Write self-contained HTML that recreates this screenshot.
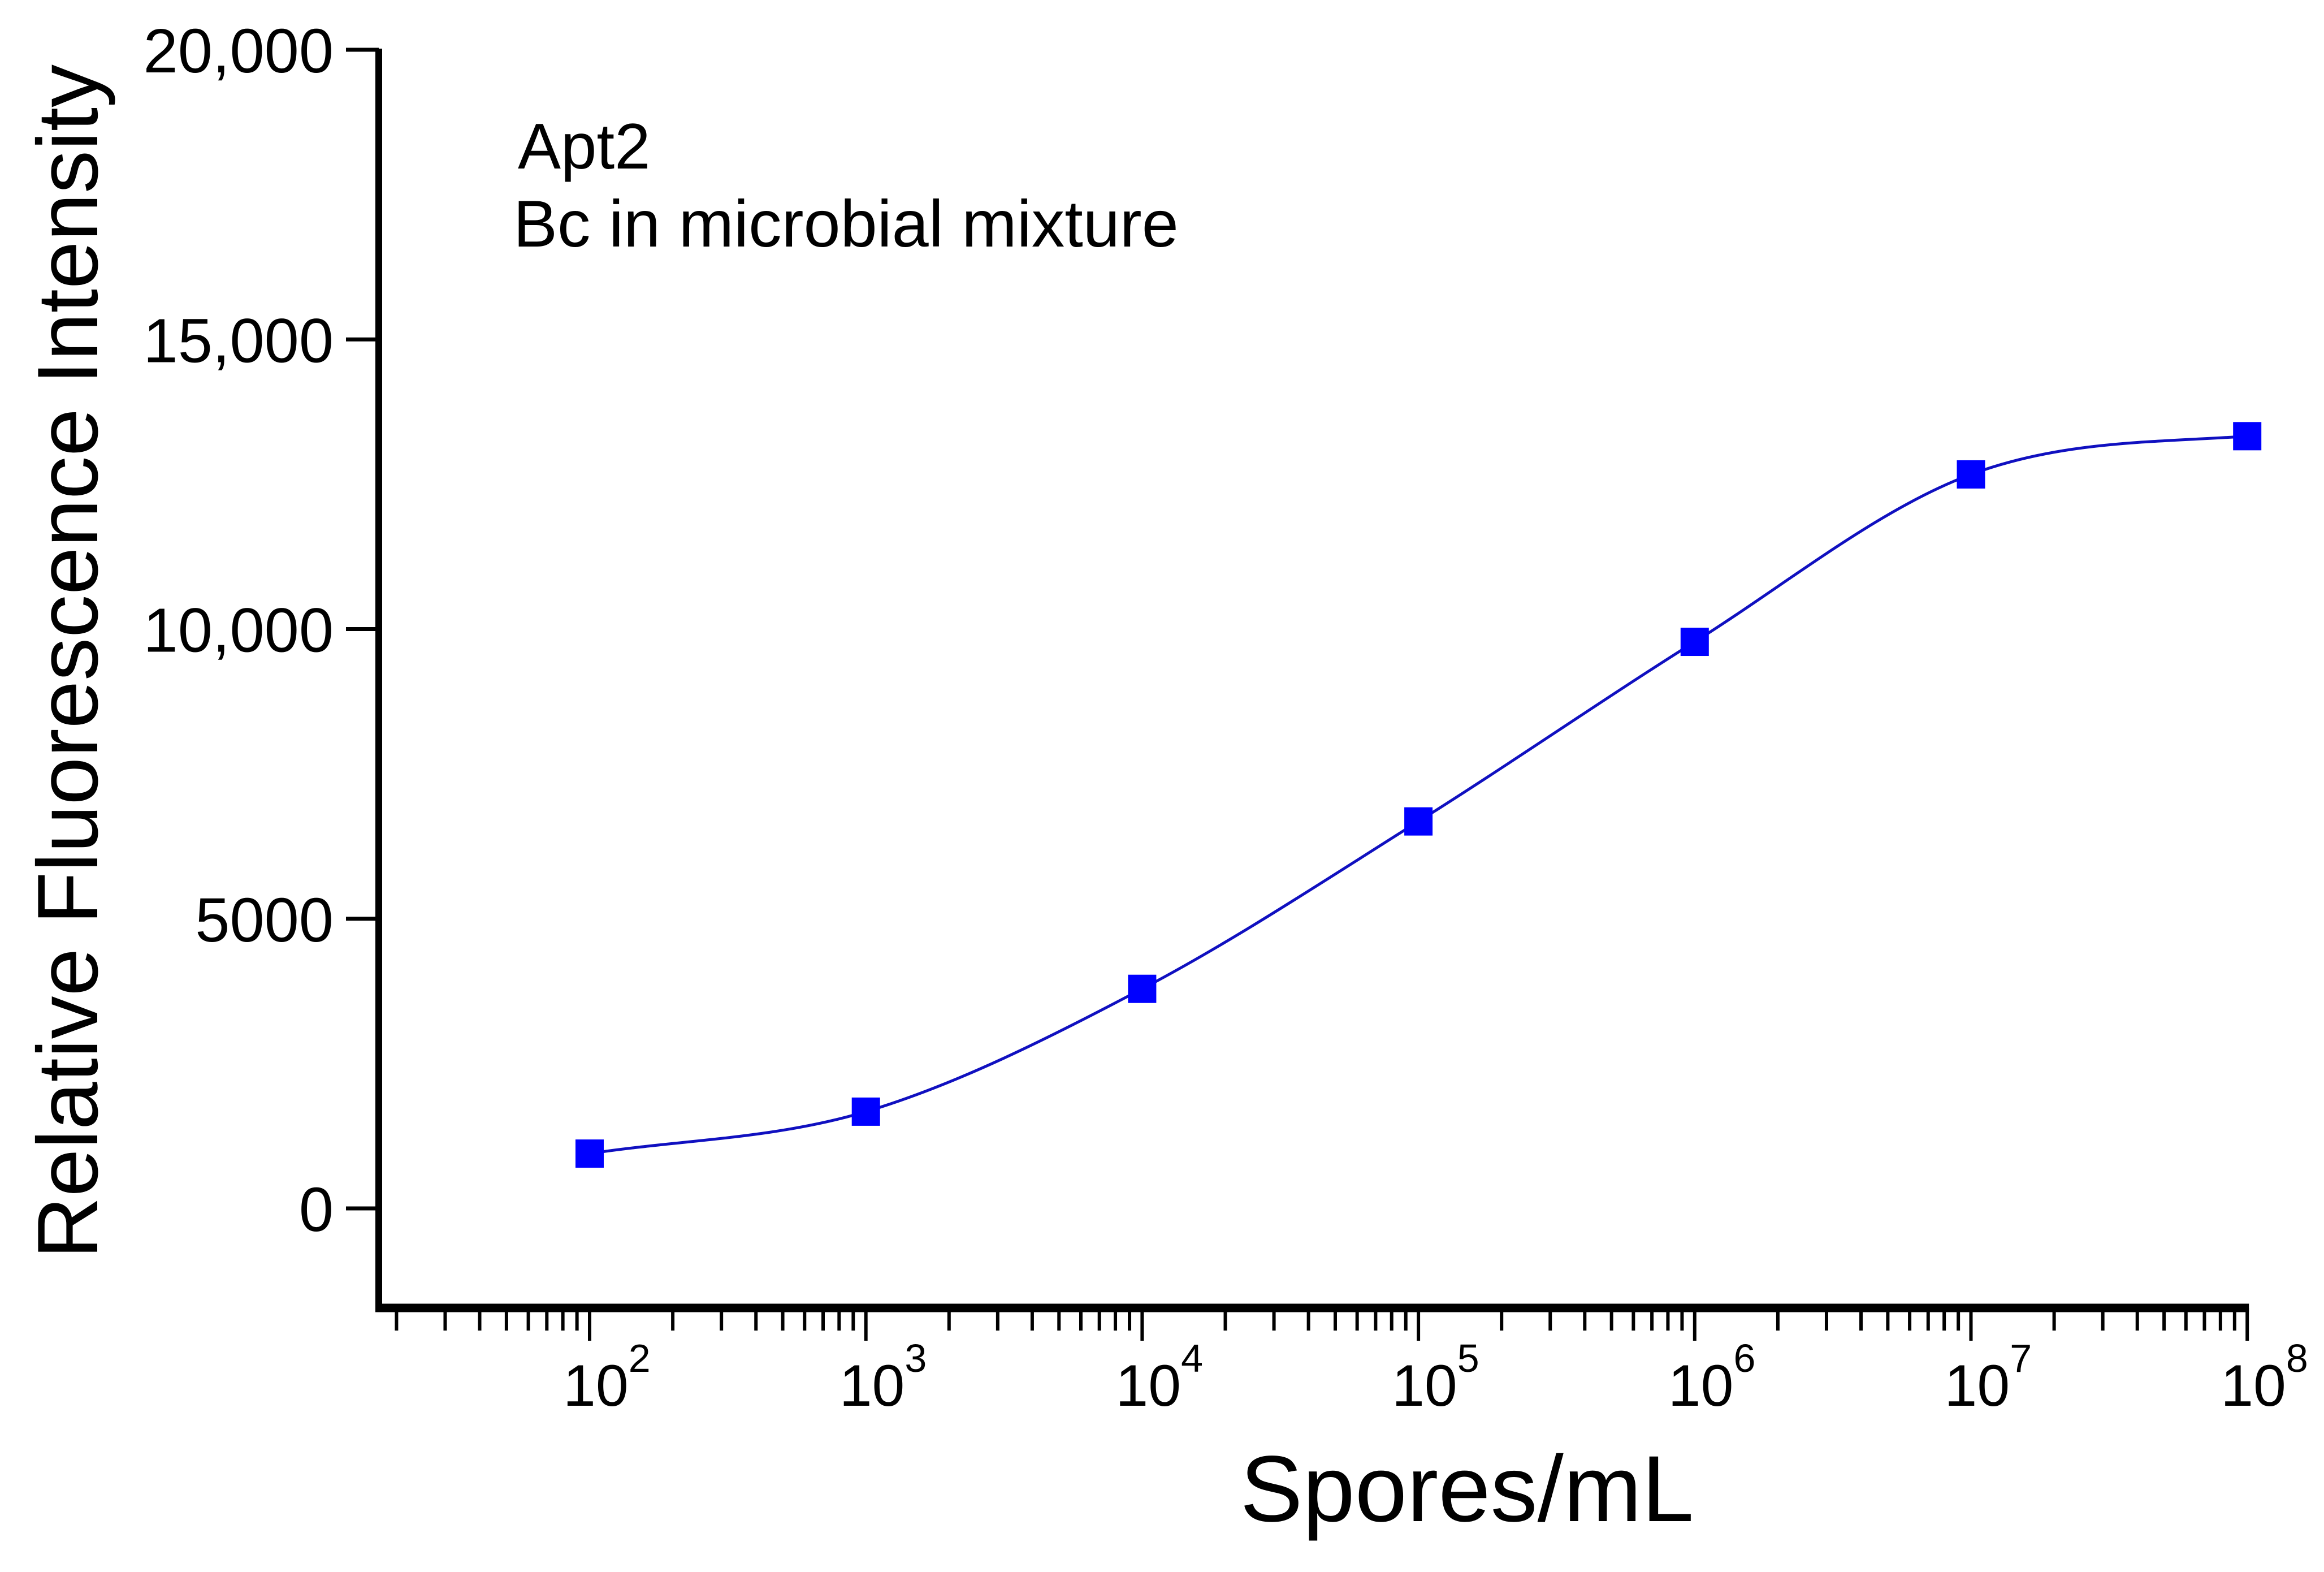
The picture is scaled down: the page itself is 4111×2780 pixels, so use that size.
<!DOCTYPE html>
<html><head><meta charset="utf-8">
<style>
html,body{margin:0;padding:0;background:#fff;}
svg{display:block;font-family:"Liberation Sans",Arial,sans-serif;}
</style></head>
<body>
<svg id="chart" width="4111" height="2780" viewBox="0 0 4111 2780" xmlns="http://www.w3.org/2000/svg">
  <rect width="4111" height="2780" fill="#fff"/>
  <g id="axes"></g>
  <g id="series"></g>
  <text x="916" y="298" font-size="114" fill="#000">Apt2</text>
  <text x="908" y="436" font-size="117" fill="#000">Bc in microbial mixture</text>
  <text x="0" y="0" font-size="152" fill="#000" text-anchor="middle" transform="translate(172,1170) rotate(-90)">Relative Fluorescence Intensity</text>
  <text x="2595" y="2690" font-size="166" fill="#000" text-anchor="middle">Spores/mL</text>
</svg>
<script>
const xExponents = [2, 3, 4, 5, 6, 7, 8];
const yValues = [946, 1670, 3790, 6680, 9780, 12670, 13330];
const yTicks = [0, 5000, 10000, 15000, 20000];
const yTickLabels = ["0", "5000", "10,000", "15,000", "20,000"];
const xTickExponents = [2, 3, 4, 5, 6, 7, 8];

const NS = "http://www.w3.org/2000/svg";
const X0 = 1043, DEC = 488.7;
function xScale(logv){ return X0 + (logv - 2) * DEC; }
function yScale(v){ return 2137 - v * (2049/20000); }
function mk(tag, attrs, parent){
  const e = document.createElementNS(NS, tag);
  for (const k in attrs) e.setAttribute(k, attrs[k]);
  parent.appendChild(e);
  return e;
}
const axes = document.getElementById('axes');
const series = document.getElementById('series');
const axisY = 2313, axisLeft = 670, axisRight = xScale(8);

let yl = mk('line', {x1:axisLeft, y1:86, x2:axisLeft, y2:axisY+5, stroke:'#000','stroke-width':12}, axes);


let xl = mk('line', {x1:axisLeft-6, y1:axisY, x2:axisRight+3, y2:axisY, stroke:'#000','stroke-width':15}, axes);



yTicks.forEach((v, i) => {
  const y = yScale(v);
  const t = mk('line', {x1:612, y1:y, x2:axisLeft, y2:y, stroke:'#000','stroke-width':7}, axes);
  
  
  const lb = mk('text', {x:590, y:y+40, 'font-size':110, 'text-anchor':'end', fill:'#000'}, axes);
  lb.textContent = yTickLabels[i];
  
  
});

for (let d = 1; d <= 7; d++) {
  for (let m = 2; m <= 9; m++) {
    const lv = d + Math.log10(m);
    const x = xScale(lv);
    const t = mk('line', {x1:x, y1:axisY, x2:x, y2:2353, stroke:'#000','stroke-width':6}, axes);
    
    
  }
}
xTickExponents.forEach(e => {
  const x = xScale(e);
  const t = mk('line', {x1:x, y1:axisY, x2:x, y2:2371, stroke:'#000','stroke-width':6}, axes);
  
  
  const lb = mk('text', {x:x-47, y:2486, 'font-size':104, fill:'#000'}, axes);
  
  
  const base = mk('tspan', {}, lb); base.textContent = '10';
  const sup = mk('tspan', {dy:-60, 'font-size':70}, lb); sup.textContent = String(e);
});

const px = xExponents.map(xScale), py = yValues.map(yScale);
const n = px.length;
const dx = [], sl = [];
for (let i = 0; i < n-1; i++){ dx.push(px[i+1]-px[i]); sl.push((py[i+1]-py[i])/dx[i]); }
const m = [sl[0]];
for (let i = 1; i < n-1; i++){ m.push(sl[i-1]*sl[i] <= 0 ? 0 : (sl[i-1]+sl[i])/2); }
m.push(sl[n-2]*0.5);
let d = `M${px[0]},${py[0]}`;
for (let i = 0; i < n-1; i++){
  const h = dx[i]/3;
  d += ` C${px[i]+h},${py[i]+m[i]*h} ${px[i+1]-h},${py[i+1]-m[i+1]*h} ${px[i+1]},${py[i+1]}`;
}
const curve = mk('path', {d:d, fill:'none', stroke:'#1010c0','stroke-width':5}, series);



xExponents.forEach((e, i) => {
  const r = mk('rect', {x:xScale(e)-25, y:yScale(yValues[i])-25, width:50, height:50, fill:'#0000ff'}, series);
  
  
});
</script>
</body></html>
